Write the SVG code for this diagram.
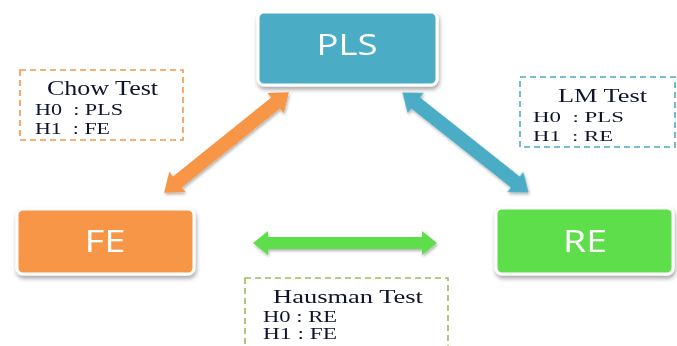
<svg xmlns="http://www.w3.org/2000/svg" width="677" height="346" viewBox="0 0 677 346">
<style>
.box{stroke:#fff;stroke-width:3;filter:url(#sh)}
.lbl{font-family:"Open Sans","DejaVu Sans",sans-serif;fill:#fff;text-anchor:middle}
.t{font-family:"Liberation Serif","Times New Roman",serif;fill:#10142a;white-space:pre}
.dash{fill:#fff;stroke-width:1.6;stroke-dasharray:6 4}
</style>
<defs>
<filter id="sh" x="-10%" y="-10%" width="125%" height="135%">
<feDropShadow dx="1" dy="3" stdDeviation="2" flood-color="#000" flood-opacity="0.35"/>
</filter>
<filter id="ash" x="-10%" y="-30%" width="120%" height="160%">
<feDropShadow dx="1" dy="2" stdDeviation="1.5" flood-color="#000" flood-opacity="0.3"/>
</filter>
</defs>
<g id="connectors" filter="url(#ash)">
<polygon fill="#F79646" transform="translate(226.5,142.5) rotate(-38.8)" points="-80,0 -63,-13 -63,-7 63,-7 63,-13 80,0 63,13 63,7 -63,7 -63,13"/>
<polygon fill="#4BACC6" transform="translate(465.5,142.5) rotate(38.4)" points="-80.5,0 -63.5,-13 -63.5,-7 63.5,-7 63.5,-13 80.5,0 63.5,13 63.5,7 -63.5,7 -63.5,13"/>
<polygon fill="#5FDE4B" transform="translate(345,243)" points="-92,0 -77,-12 -77,-6 77,-6 77,-12 92,0 77,12 77,6 -77,6 -77,12"/>
</g>
<g id="PLS">
<rect class="box" x="258" y="12" width="179" height="73" rx="6" fill="#4BACC6"/>
<text class="lbl" x="347" y="55" font-size="30" textLength="61" lengthAdjust="spacingAndGlyphs">PLS</text>
</g>
<g id="FE">
<rect class="box" x="17" y="209" width="177" height="65" rx="6" fill="#F79646"/>
<text class="lbl" x="105" y="252" font-size="31" textLength="41" lengthAdjust="spacingAndGlyphs">FE</text>
</g>
<g id="RE">
<rect class="box" x="496" y="208" width="177" height="66" rx="6" fill="#5FDE4B"/>
<text class="lbl" x="585" y="252" font-size="31" textLength="44" lengthAdjust="spacingAndGlyphs">RE</text>
</g>
<g id="chow">
<rect class="dash" x="20" y="70" width="163" height="70" stroke="#F79646"/>
<text class="t" x="47" y="95" font-size="20" textLength="111" lengthAdjust="spacingAndGlyphs">Chow Test</text>
<text class="t" x="35" y="115" font-size="17" textLength="88" lengthAdjust="spacingAndGlyphs">H0  : PLS</text>
<text class="t" x="35" y="134" font-size="17" textLength="75" lengthAdjust="spacingAndGlyphs">H1  : FE</text>
</g>
<g id="lm">
<rect class="dash" x="520" y="77" width="155" height="70" stroke="#4BACC6"/>
<text class="t" x="558" y="102" font-size="18" textLength="89" lengthAdjust="spacingAndGlyphs">LM Test</text>
<text class="t" x="533" y="122" font-size="15" textLength="91" lengthAdjust="spacingAndGlyphs">H0  : PLS</text>
<text class="t" x="533" y="141" font-size="15" textLength="80" lengthAdjust="spacingAndGlyphs">H1  : RE</text>
</g>
<g id="hausman">
<rect class="dash" x="245" y="278" width="203" height="80" stroke="#9BBB59"/>
<text class="t" x="273" y="303" font-size="18" textLength="150" lengthAdjust="spacingAndGlyphs">Hausman Test</text>
<text class="t" x="263" y="322" font-size="16" textLength="74" lengthAdjust="spacingAndGlyphs">H0 : RE</text>
<text class="t" x="263" y="339" font-size="16" textLength="74" lengthAdjust="spacingAndGlyphs">H1 : FE</text>
</g>
</svg>
